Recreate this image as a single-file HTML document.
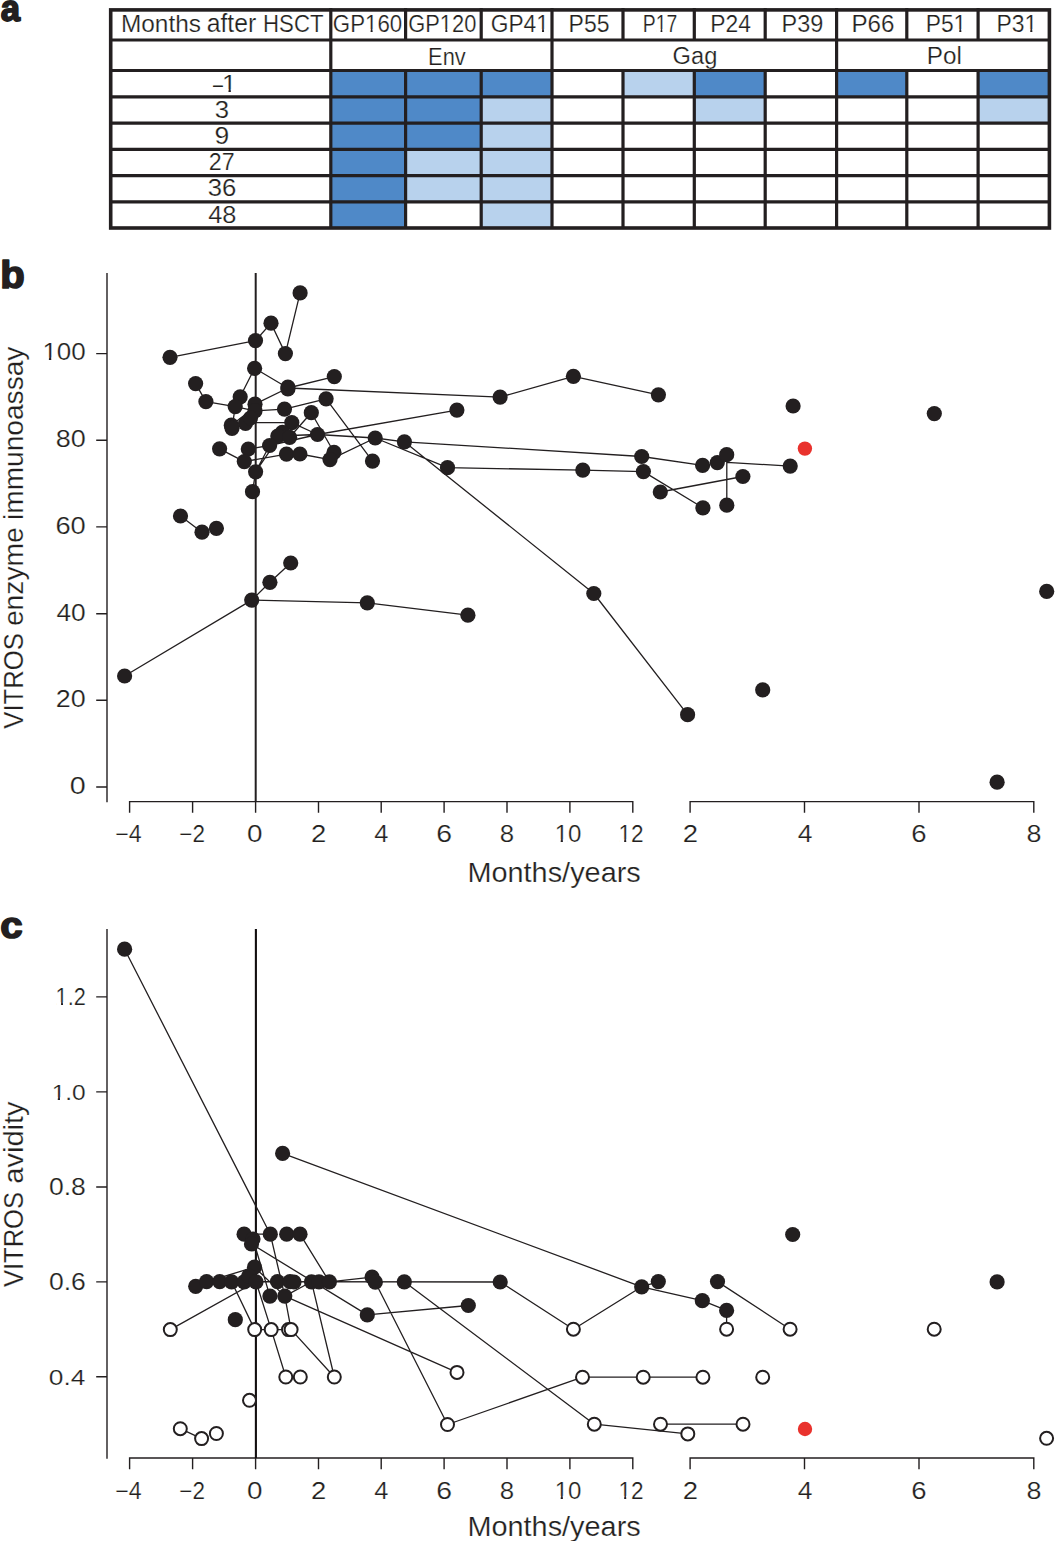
<!DOCTYPE html><html><head><meta charset="utf-8"><title>Figure</title><style>html,body{margin:0;padding:0;background:#fff;width:1055px;height:1541px;overflow:hidden}svg text{font-family:"Liberation Sans",sans-serif;font-kerning:none;font-variant-ligatures:none}</style></head><body><svg width="1055" height="1541" viewBox="0 0 1055 1541" style="display:block" font-family="Liberation Sans, sans-serif" fill="#231f20"><g transform="translate(0.63,20.65) scale(0.9335,1)"><text font-size="37.17" font-weight="bold" stroke="#231f20" stroke-width="1.76" stroke-linejoin="round">a</text></g>
<g transform="translate(0.21,287.65) scale(1.0300,1)"><text font-size="38.92" font-weight="bold" stroke="#231f20" stroke-width="1.67" stroke-linejoin="round">b</text></g>
<g transform="translate(0.18,938.45) scale(1.1031,1)"><text font-size="36.43" font-weight="bold" stroke="#231f20" stroke-width="1.62" stroke-linejoin="round">c</text></g>
<rect x="330.80" y="70.50" width="74.80" height="26.30" fill="#4f89c8"/>
<rect x="405.60" y="70.50" width="75.60" height="26.30" fill="#4f89c8"/>
<rect x="481.20" y="70.50" width="70.80" height="26.30" fill="#4f89c8"/>
<rect x="623.00" y="70.50" width="71.30" height="26.30" fill="#b8d2ed"/>
<rect x="694.30" y="70.50" width="70.90" height="26.30" fill="#4f89c8"/>
<rect x="836.60" y="70.50" width="70.20" height="26.30" fill="#4f89c8"/>
<rect x="978.10" y="70.50" width="71.30" height="26.30" fill="#4f89c8"/>
<rect x="330.80" y="96.80" width="74.80" height="26.30" fill="#4f89c8"/>
<rect x="405.60" y="96.80" width="75.60" height="26.30" fill="#4f89c8"/>
<rect x="481.20" y="96.80" width="70.80" height="26.30" fill="#b8d2ed"/>
<rect x="694.30" y="96.80" width="70.90" height="26.30" fill="#b8d2ed"/>
<rect x="978.10" y="96.80" width="71.30" height="26.30" fill="#b8d2ed"/>
<rect x="330.80" y="123.10" width="74.80" height="26.30" fill="#4f89c8"/>
<rect x="405.60" y="123.10" width="75.60" height="26.30" fill="#4f89c8"/>
<rect x="481.20" y="123.10" width="70.80" height="26.30" fill="#b8d2ed"/>
<rect x="330.80" y="149.40" width="74.80" height="26.20" fill="#4f89c8"/>
<rect x="405.60" y="149.40" width="75.60" height="26.20" fill="#b8d2ed"/>
<rect x="481.20" y="149.40" width="70.80" height="26.20" fill="#b8d2ed"/>
<rect x="330.80" y="175.60" width="74.80" height="26.20" fill="#4f89c8"/>
<rect x="405.60" y="175.60" width="75.60" height="26.20" fill="#b8d2ed"/>
<rect x="481.20" y="175.60" width="70.80" height="26.20" fill="#b8d2ed"/>
<rect x="330.80" y="201.80" width="74.80" height="25.80" fill="#4f89c8"/>
<rect x="481.20" y="201.80" width="70.80" height="25.80" fill="#b8d2ed"/>
<path d="M109,40.00H1051M109,70.50H1051M109,96.80H1051M109,123.10H1051M109,149.40H1051M109,175.60H1051M109,201.80H1051M330.80,8V229M405.60,8V40.00M405.60,70.50V229M481.20,8V40.00M481.20,70.50V229M552.00,8V229M623.00,8V40.00M623.00,70.50V229M694.30,8V40.00M694.30,70.50V229M765.20,8V40.00M765.20,70.50V229M836.60,8V229M906.80,8V40.00M906.80,70.50V229M978.10,8V40.00M978.10,70.50V229" stroke="#231f20" stroke-width="3.2" fill="none"/>
<rect x="110.7" y="9.9" width="938.7" height="218.1" stroke="#231f20" stroke-width="3.6" fill="none"/>
<g transform="translate(120.89,31.91) scale(1.0235,1)"><text font-size="23.87" stroke="#fff" stroke-width="0.22" stroke-linejoin="round">Months</text></g>
<g transform="translate(206.74,31.91) scale(0.9821,1)"><text font-size="25.18" stroke="#fff" stroke-width="0.22" stroke-linejoin="round">after</text></g>
<g transform="translate(263.07,31.91) scale(0.9305,1)"><text font-size="23.87" stroke="#fff" stroke-width="0.23" stroke-linejoin="round">HSCT</text></g>
<g transform="translate(332.87,31.91) scale(0.9328,1)"><text font-size="23.87" stroke="#fff" stroke-width="0.23" stroke-linejoin="round">GP160</text><g fill="#fff"><rect x="35.30" y="-2.74" width="5.15" height="3.50"/><rect x="42.63" y="-2.74" width="4.79" height="3.50"/></g></g>
<g transform="translate(408.29,31.91) scale(0.9162,1)"><text font-size="23.87" stroke="#fff" stroke-width="0.23" stroke-linejoin="round">GP120</text><g fill="#fff"><rect x="35.30" y="-2.74" width="5.15" height="3.50"/><rect x="42.63" y="-2.74" width="4.79" height="3.50"/></g></g>
<g transform="translate(490.75,31.91) scale(0.9534,1)"><text font-size="23.87" stroke="#fff" stroke-width="0.23" stroke-linejoin="round">GP41</text><g fill="#fff"><rect x="48.57" y="-2.74" width="5.15" height="3.50"/><rect x="55.90" y="-2.74" width="4.79" height="3.50"/></g></g>
<g transform="translate(568.61,31.91) scale(0.9624,1)"><text font-size="23.87" stroke="#fff" stroke-width="0.22" stroke-linejoin="round">P55</text></g>
<g transform="translate(642.80,31.91) scale(0.8121,1)"><text font-size="23.87" stroke="#fff" stroke-width="0.24" stroke-linejoin="round">P17</text><g fill="#fff"><rect x="16.73" y="-2.74" width="5.15" height="3.50"/><rect x="24.06" y="-2.74" width="4.79" height="3.50"/></g></g>
<g transform="translate(710.22,31.91) scale(0.9576,1)"><text font-size="23.87" stroke="#fff" stroke-width="0.22" stroke-linejoin="round">P24</text></g>
<g transform="translate(781.56,31.91) scale(0.9833,1)"><text font-size="23.87" stroke="#fff" stroke-width="0.22" stroke-linejoin="round">P39</text></g>
<g transform="translate(851.40,31.91) scale(1.0142,1)"><text font-size="23.87" stroke="#fff" stroke-width="0.22" stroke-linejoin="round">P66</text></g>
<g transform="translate(925.72,31.91) scale(0.9540,1)"><text font-size="23.87" stroke="#fff" stroke-width="0.23" stroke-linejoin="round">P51</text><g fill="#fff"><rect x="30.01" y="-2.74" width="5.15" height="3.50"/><rect x="37.34" y="-2.74" width="4.79" height="3.50"/></g></g>
<g transform="translate(996.51,31.91) scale(0.9597,1)"><text font-size="23.87" stroke="#fff" stroke-width="0.22" stroke-linejoin="round">P31</text><g fill="#fff"><rect x="30.01" y="-2.74" width="5.15" height="3.50"/><rect x="37.34" y="-2.74" width="4.79" height="3.50"/></g></g>
<g transform="translate(428.10,64.71) scale(0.9367,1)"><text font-size="23.29" stroke="#fff" stroke-width="0.23" stroke-linejoin="round">Env</text></g>
<g transform="translate(672.60,64.31) scale(0.9681,1)"><text font-size="24.45" stroke="#fff" stroke-width="0.22" stroke-linejoin="round">Gag</text></g>
<g transform="translate(926.70,64.11) scale(1.0187,1)"><text font-size="23.87" stroke="#fff" stroke-width="0.22" stroke-linejoin="round">Pol</text></g>
<g transform="translate(213.00,92.20) scale(0.7296,1)"><text font-size="24.42">–</text></g>
<g transform="translate(221.99,92.01) scale(1.0802,1)"><text font-size="24.01" stroke="#fff" stroke-width="0.21" stroke-linejoin="round">1</text><g fill="#fff"><rect x="0.82" y="-2.76" width="5.18" height="3.52"/><rect x="8.20" y="-2.76" width="4.82" height="3.52"/></g></g>
<g transform="translate(214.71,118.21) scale(1.0418,1)"><text font-size="24.74" stroke="#fff" stroke-width="0.22" stroke-linejoin="round">3</text></g>
<g transform="translate(214.45,144.41) scale(1.0757,1)"><text font-size="24.59" stroke="#fff" stroke-width="0.21" stroke-linejoin="round">9</text></g>
<g transform="translate(208.72,170.11) scale(0.9509,1)"><text font-size="24.45" stroke="#fff" stroke-width="0.23" stroke-linejoin="round">27</text></g>
<g transform="translate(207.81,196.21) scale(1.0467,1)"><text font-size="24.59" stroke="#fff" stroke-width="0.21" stroke-linejoin="round">36</text></g>
<g transform="translate(208.21,223.11) scale(1.0310,1)"><text font-size="24.59" stroke="#fff" stroke-width="0.22" stroke-linejoin="round">48</text></g>
<path d="M107,273.00V802.30M96.2,787.00H107M96.2,700.30H107M96.2,613.80H107M96.2,526.90H107M96.2,440.20H107M96.2,353.60H107M129.6,801.60H632.8M690.1,801.60H1033.8M129.60,800.90V812.80M192.60,800.90V812.80M255.60,800.90V812.80M318.50,800.90V812.80M381.20,800.90V812.80M444.10,800.90V812.80M507.00,800.90V812.80M569.90,800.90V812.80M632.80,800.90V812.80M690.10,800.90V812.80M804.50,800.90V812.80M919.00,800.90V812.80M1033.80,800.90V812.80" stroke="#231f20" stroke-width="1.4" fill="none"/>
<path d="M255.70,273.00V801.60" stroke="#231f20" stroke-width="2.00" fill="none"/>
<g transform="translate(69.87,793.71) scale(1.2026,1)"><text font-size="23.87" stroke="#fff" stroke-width="0.20" stroke-linejoin="round">0</text></g>
<g transform="translate(55.84,707.01) scale(1.1272,1)"><text font-size="23.87" stroke="#fff" stroke-width="0.21" stroke-linejoin="round">20</text></g>
<g transform="translate(56.49,620.51) scale(1.1018,1)"><text font-size="23.87" stroke="#fff" stroke-width="0.21" stroke-linejoin="round">40</text></g>
<g transform="translate(55.40,533.61) scale(1.1441,1)"><text font-size="23.87" stroke="#fff" stroke-width="0.21" stroke-linejoin="round">60</text></g>
<g transform="translate(55.72,446.91) scale(1.1319,1)"><text font-size="23.87" stroke="#fff" stroke-width="0.21" stroke-linejoin="round">80</text></g>
<g transform="translate(42.39,360.31) scale(1.0882,1)"><text font-size="23.87" stroke="#fff" stroke-width="0.21" stroke-linejoin="round">100</text><g fill="#fff"><rect x="0.82" y="-2.74" width="5.15" height="3.50"/><rect x="8.15" y="-2.74" width="4.79" height="3.50"/></g></g>
<g transform="translate(115.25,842.11) scale(1.0023,1)"><text font-size="23.14" stroke="#fff" stroke-width="0.22" stroke-linejoin="round">−4</text></g>
<g transform="translate(179.28,842.11) scale(0.9727,1)"><text font-size="23.14" stroke="#fff" stroke-width="0.22" stroke-linejoin="round">−2</text></g>
<g transform="translate(246.90,842.11) scale(1.2042,1)"><text font-size="23.14" stroke="#fff" stroke-width="0.20" stroke-linejoin="round">0</text></g>
<g transform="translate(310.91,842.11) scale(1.1877,1)"><text font-size="23.14" stroke="#fff" stroke-width="0.20" stroke-linejoin="round">2</text></g>
<g transform="translate(374.21,842.11) scale(1.0995,1)"><text font-size="23.14" stroke="#fff" stroke-width="0.21" stroke-linejoin="round">4</text></g>
<g transform="translate(436.15,842.11) scale(1.2288,1)"><text font-size="23.14" stroke="#fff" stroke-width="0.20" stroke-linejoin="round">6</text></g>
<g transform="translate(499.67,842.11) scale(1.1162,1)"><text font-size="23.14" stroke="#fff" stroke-width="0.21" stroke-linejoin="round">8</text></g>
<g transform="translate(554.67,842.11) scale(1.0403,1)"><text font-size="23.14" stroke="#fff" stroke-width="0.22" stroke-linejoin="round">10</text><g fill="#fff"><rect x="0.79" y="-2.66" width="4.99" height="3.39"/><rect x="7.90" y="-2.66" width="4.64" height="3.39"/></g></g>
<g transform="translate(618.52,842.11) scale(0.9763,1)"><text font-size="23.14" stroke="#fff" stroke-width="0.22" stroke-linejoin="round">12</text><g fill="#fff"><rect x="0.79" y="-2.66" width="4.99" height="3.39"/><rect x="7.90" y="-2.66" width="4.64" height="3.39"/></g></g>
<g transform="translate(682.81,842.11) scale(1.1877,1)"><text font-size="23.14" stroke="#fff" stroke-width="0.20" stroke-linejoin="round">2</text></g>
<g transform="translate(797.68,842.11) scale(1.1423,1)"><text font-size="23.14" stroke="#fff" stroke-width="0.21" stroke-linejoin="round">4</text></g>
<g transform="translate(911.29,842.11) scale(1.1913,1)"><text font-size="23.14" stroke="#fff" stroke-width="0.20" stroke-linejoin="round">6</text></g>
<g transform="translate(1026.42,842.11) scale(1.1623,1)"><text font-size="23.14" stroke="#fff" stroke-width="0.20" stroke-linejoin="round">8</text></g>
<g transform="translate(467.42,881.81) scale(1.0556,1)"><text font-size="27.36" stroke="#fff" stroke-width="0.21" stroke-linejoin="round">Months/years</text></g>
<text transform="translate(22.71,728.72) rotate(-90) scale(0.9510,1)" font-size="27.06" stroke="#fff" stroke-width="0.22">VITROS</text>
<text transform="translate(22.71,626.11) rotate(-90) scale(1.0444,1)" font-size="27.06" stroke="#fff" stroke-width="0.22">enzyme</text>
<text transform="translate(22.71,519.99) rotate(-90) scale(1.0395,1)" font-size="27.06" stroke="#fff" stroke-width="0.22">immunoassay</text>
<path d="M170.0,357.3L255.5,340.6L271.0,323.2L285.4,353.6L300.1,292.9M254.6,368.3L287.9,388.0L334.3,376.6M254.6,368.3L240.2,396.8M287.9,388.0L500.1,397.1L573.4,376.3L658.4,394.8M255.0,404.2L287.9,388.0M195.6,383.6L205.9,401.6L235.2,406.6L255.0,410.8M255.0,410.8L284.5,409.1L326.1,398.8L372.5,461.1M255.5,422.6L291.8,422.6M231.3,425.2L250.5,410.5M232.0,428.3L235.2,406.6M289.6,437.3L311.3,412.7L334.0,452.3M291.8,422.6L317.5,434.5M317.5,434.5L456.9,410.1M277.8,436.0L317.5,434.5L375.2,438.0L404.4,441.8L641.7,456.5L702.6,465.3M269.6,445.5L317.5,434.5M330.0,459.6L375.2,438.0M404.4,441.8L593.8,593.5L687.6,714.7M375.2,438.0L447.5,467.7L582.8,470.1L643.4,471.6L702.9,507.8M660.3,492.0L742.9,476.5M726.8,505.2L726.8,462.4L790.2,466.1M219.6,448.8L244.3,461.6L286.5,454.1L299.9,454.0L330.0,459.6M248.3,449.0L269.6,445.5M255.6,471.8L269.6,445.5M255.6,471.8L282.4,432.4M255.6,471.8L252.5,491.7M180.5,516.0L202.0,532.2M124.6,676.0L251.7,600.1L269.9,582.3L290.7,563.0M251.7,600.1L367.3,602.8L467.9,615.2" stroke="#231f20" stroke-width="1.30" fill="none" stroke-linejoin="round"/>
<g fill="#231f20"><circle cx="300.1" cy="292.9" r="7.60"/><circle cx="271.0" cy="323.2" r="7.60"/><circle cx="255.5" cy="340.6" r="7.60"/><circle cx="285.4" cy="353.6" r="7.60"/><circle cx="170.0" cy="357.3" r="7.60"/><circle cx="254.6" cy="368.3" r="7.60"/><circle cx="334.3" cy="376.6" r="7.60"/><circle cx="195.6" cy="383.6" r="7.60"/><circle cx="287.9" cy="387.0" r="7.60"/><circle cx="287.9" cy="389.0" r="7.60"/><circle cx="500.1" cy="397.1" r="7.60"/><circle cx="573.4" cy="376.3" r="7.60"/><circle cx="658.4" cy="394.8" r="7.60"/><circle cx="205.9" cy="401.6" r="7.60"/><circle cx="240.2" cy="396.8" r="7.60"/><circle cx="235.2" cy="406.6" r="7.60"/><circle cx="255.0" cy="404.2" r="7.60"/><circle cx="255.0" cy="410.8" r="7.60"/><circle cx="284.5" cy="409.1" r="7.60"/><circle cx="326.1" cy="398.8" r="7.60"/><circle cx="456.9" cy="410.1" r="7.60"/><circle cx="231.3" cy="425.2" r="7.60"/><circle cx="232.0" cy="428.3" r="7.60"/><circle cx="245.5" cy="423.5" r="7.60"/><circle cx="250.5" cy="418.0" r="7.60"/><circle cx="291.8" cy="422.6" r="7.60"/><circle cx="311.3" cy="412.7" r="7.60"/><circle cx="317.5" cy="434.5" r="7.60"/><circle cx="282.4" cy="432.4" r="7.60"/><circle cx="277.8" cy="436.0" r="7.60"/><circle cx="289.6" cy="437.3" r="7.60"/><circle cx="269.6" cy="445.5" r="7.60"/><circle cx="375.2" cy="438.0" r="7.60"/><circle cx="404.4" cy="441.8" r="7.60"/><circle cx="641.7" cy="456.5" r="7.60"/><circle cx="702.6" cy="465.3" r="7.60"/><circle cx="717.3" cy="462.6" r="7.60"/><circle cx="726.7" cy="454.7" r="7.60"/><circle cx="790.2" cy="466.1" r="7.60"/><circle cx="219.6" cy="448.8" r="7.60"/><circle cx="248.3" cy="449.0" r="7.60"/><circle cx="244.3" cy="461.6" r="7.60"/><circle cx="255.6" cy="471.8" r="7.60"/><circle cx="252.5" cy="491.7" r="7.60"/><circle cx="286.5" cy="454.1" r="7.60"/><circle cx="299.9" cy="454.0" r="7.60"/><circle cx="334.0" cy="452.3" r="7.60"/><circle cx="330.0" cy="459.6" r="7.60"/><circle cx="372.5" cy="461.1" r="7.60"/><circle cx="447.5" cy="467.7" r="7.60"/><circle cx="582.8" cy="470.1" r="7.60"/><circle cx="643.4" cy="471.6" r="7.60"/><circle cx="660.3" cy="492.0" r="7.60"/><circle cx="742.9" cy="476.5" r="7.60"/><circle cx="702.9" cy="507.8" r="7.60"/><circle cx="726.8" cy="505.2" r="7.60"/><circle cx="793.1" cy="406.0" r="7.60"/><circle cx="934.3" cy="413.6" r="7.60"/><circle cx="180.5" cy="516.0" r="7.60"/><circle cx="202.0" cy="532.2" r="7.60"/><circle cx="216.4" cy="528.3" r="7.60"/><circle cx="124.6" cy="676.0" r="7.60"/><circle cx="251.7" cy="600.1" r="7.60"/><circle cx="269.9" cy="582.3" r="7.60"/><circle cx="290.7" cy="563.0" r="7.60"/><circle cx="367.3" cy="602.8" r="7.60"/><circle cx="467.9" cy="615.2" r="7.60"/><circle cx="593.8" cy="593.5" r="7.60"/><circle cx="687.6" cy="714.7" r="7.60"/><circle cx="762.7" cy="689.9" r="7.60"/><circle cx="997.1" cy="782.2" r="7.60"/><circle cx="1046.7" cy="591.4" r="7.60"/></g>
<g fill="#e9322d"><circle cx="804.9" cy="448.6" r="7.20"/></g>
<path d="M107,929.00V1458.70M96.2,1376.80H107M96.2,1281.90H107M96.2,1187.00H107M96.2,1091.90H107M96.2,996.90H107M129.6,1458.00H632.8M690.1,1458.00H1033.8M129.60,1457.30V1469.20M192.60,1457.30V1469.20M255.60,1457.30V1469.20M318.50,1457.30V1469.20M381.20,1457.30V1469.20M444.10,1457.30V1469.20M507.00,1457.30V1469.20M569.90,1457.30V1469.20M632.80,1457.30V1469.20M690.10,1457.30V1469.20M804.50,1457.30V1469.20M919.00,1457.30V1469.20M1033.80,1457.30V1469.20" stroke="#231f20" stroke-width="1.4" fill="none"/>
<path d="M255.90,929.00V1458.00" stroke="#120e0f" stroke-width="2.10" fill="none"/>
<g transform="translate(48.86,1384.81) scale(1.1456,1)"><text font-size="22.99" stroke="#fff" stroke-width="0.21" stroke-linejoin="round">0.4</text></g>
<g transform="translate(48.95,1289.91) scale(1.1551,1)"><text font-size="22.99" stroke="#fff" stroke-width="0.20" stroke-linejoin="round">0.6</text></g>
<g transform="translate(48.95,1195.01) scale(1.1547,1)"><text font-size="22.99" stroke="#fff" stroke-width="0.20" stroke-linejoin="round">0.8</text></g>
<g transform="translate(51.64,1099.91) scale(1.0646,1)"><text font-size="22.99" stroke="#fff" stroke-width="0.21" stroke-linejoin="round">1.0</text><g fill="#fff"><rect x="0.79" y="-2.64" width="4.96" height="3.37"/><rect x="7.85" y="-2.64" width="4.61" height="3.37"/></g></g>
<g transform="translate(55.60,1004.91) scale(0.9448,1)"><text font-size="22.99" stroke="#fff" stroke-width="0.23" stroke-linejoin="round">1.2</text><g fill="#fff"><rect x="0.79" y="-2.64" width="4.96" height="3.37"/><rect x="7.85" y="-2.64" width="4.61" height="3.37"/></g></g>
<g transform="translate(115.25,1498.51) scale(1.0023,1)"><text font-size="23.14" stroke="#fff" stroke-width="0.22" stroke-linejoin="round">−4</text></g>
<g transform="translate(179.28,1498.51) scale(0.9727,1)"><text font-size="23.14" stroke="#fff" stroke-width="0.22" stroke-linejoin="round">−2</text></g>
<g transform="translate(246.90,1498.51) scale(1.2042,1)"><text font-size="23.14" stroke="#fff" stroke-width="0.20" stroke-linejoin="round">0</text></g>
<g transform="translate(310.91,1498.51) scale(1.1877,1)"><text font-size="23.14" stroke="#fff" stroke-width="0.20" stroke-linejoin="round">2</text></g>
<g transform="translate(374.21,1498.51) scale(1.0995,1)"><text font-size="23.14" stroke="#fff" stroke-width="0.21" stroke-linejoin="round">4</text></g>
<g transform="translate(436.15,1498.51) scale(1.2288,1)"><text font-size="23.14" stroke="#fff" stroke-width="0.20" stroke-linejoin="round">6</text></g>
<g transform="translate(499.67,1498.51) scale(1.1162,1)"><text font-size="23.14" stroke="#fff" stroke-width="0.21" stroke-linejoin="round">8</text></g>
<g transform="translate(554.67,1498.51) scale(1.0403,1)"><text font-size="23.14" stroke="#fff" stroke-width="0.22" stroke-linejoin="round">10</text><g fill="#fff"><rect x="0.79" y="-2.66" width="4.99" height="3.39"/><rect x="7.90" y="-2.66" width="4.64" height="3.39"/></g></g>
<g transform="translate(618.52,1498.51) scale(0.9763,1)"><text font-size="23.14" stroke="#fff" stroke-width="0.22" stroke-linejoin="round">12</text><g fill="#fff"><rect x="0.79" y="-2.66" width="4.99" height="3.39"/><rect x="7.90" y="-2.66" width="4.64" height="3.39"/></g></g>
<g transform="translate(682.81,1498.51) scale(1.1877,1)"><text font-size="23.14" stroke="#fff" stroke-width="0.20" stroke-linejoin="round">2</text></g>
<g transform="translate(797.68,1498.51) scale(1.1423,1)"><text font-size="23.14" stroke="#fff" stroke-width="0.21" stroke-linejoin="round">4</text></g>
<g transform="translate(911.29,1498.51) scale(1.1913,1)"><text font-size="23.14" stroke="#fff" stroke-width="0.20" stroke-linejoin="round">6</text></g>
<g transform="translate(1026.42,1498.51) scale(1.1623,1)"><text font-size="23.14" stroke="#fff" stroke-width="0.20" stroke-linejoin="round">8</text></g>
<g transform="translate(467.42,1535.81) scale(1.0613,1)"><text font-size="27.21" stroke="#fff" stroke-width="0.21" stroke-linejoin="round">Months/years</text></g>
<text transform="translate(22.71,1287.12) rotate(-90) scale(0.9450,1)" font-size="27.06" stroke="#fff" stroke-width="0.22">VITROS</text>
<text transform="translate(22.71,1183.75) rotate(-90) scale(1.0743,1)" font-size="27.06" stroke="#fff" stroke-width="0.22">avidity</text>
<path d="M124.6,949.2L270.3,1234.2L284.8,1296.1L291.1,1329.6M282.6,1153.4L641.7,1286.8L702.3,1300.7L726.6,1310.4L726.6,1329.2M641.7,1286.8L658.3,1281.6M244.1,1234.2L270.3,1234.2M300.0,1234.2L329.4,1281.8M251.5,1244.0L367.3,1314.9L468.3,1305.5M253.0,1239.0L269.9,1296.1M170.3,1329.6L256.0,1281.8M231.6,1281.8L254.7,1329.6M256.0,1281.8L271.2,1329.6M206.6,1281.6L254.5,1267.2M254.5,1267.2L284.8,1296.1M284.8,1296.1L311.5,1281.8M284.8,1296.1L457.0,1372.4M254.7,1329.6L291.1,1329.6M271.2,1329.6L285.8,1377.0M291.1,1329.6L334.3,1377.0M311.5,1281.8L334.3,1377.0M195.7,1286.3L206.6,1281.6L500.2,1282.0M329.4,1281.8L372.1,1277.1M375.3,1282.2L447.5,1424.5L582.5,1377.2L643.2,1377.2L702.9,1377.2M404.3,1281.8L594.3,1424.2L687.8,1433.9M660.5,1424.2L743.0,1424.2M500.2,1282.0L573.4,1329.2L641.7,1286.8M717.5,1281.6L790.1,1329.2M180.3,1428.7L201.6,1438.6" stroke="#231f20" stroke-width="1.30" fill="none" stroke-linejoin="round"/>
<g fill="#231f20"><circle cx="124.6" cy="949.2" r="7.60"/><circle cx="282.6" cy="1153.4" r="7.60"/><circle cx="244.1" cy="1234.2" r="7.60"/><circle cx="253.0" cy="1239.0" r="7.60"/><circle cx="251.5" cy="1244.0" r="7.60"/><circle cx="270.3" cy="1234.2" r="7.60"/><circle cx="286.7" cy="1234.2" r="7.60"/><circle cx="300.0" cy="1234.2" r="7.60"/><circle cx="254.5" cy="1267.2" r="7.60"/><circle cx="195.7" cy="1286.3" r="7.60"/><circle cx="206.6" cy="1281.6" r="7.60"/><circle cx="219.7" cy="1281.6" r="7.60"/><circle cx="231.6" cy="1281.8" r="7.60"/><circle cx="244.2" cy="1281.8" r="7.60"/><circle cx="248.7" cy="1276.0" r="7.60"/><circle cx="256.0" cy="1281.8" r="7.60"/><circle cx="277.5" cy="1281.6" r="7.60"/><circle cx="290.0" cy="1281.6" r="7.60"/><circle cx="294.0" cy="1282.0" r="7.60"/><circle cx="311.5" cy="1281.8" r="7.60"/><circle cx="319.0" cy="1281.8" r="7.60"/><circle cx="329.4" cy="1281.8" r="7.60"/><circle cx="269.9" cy="1296.1" r="7.60"/><circle cx="284.8" cy="1296.1" r="7.60"/><circle cx="235.3" cy="1319.7" r="7.60"/><circle cx="372.1" cy="1277.1" r="7.60"/><circle cx="375.3" cy="1282.2" r="7.60"/><circle cx="404.3" cy="1281.8" r="7.60"/><circle cx="500.2" cy="1282.0" r="7.60"/><circle cx="367.3" cy="1314.9" r="7.60"/><circle cx="468.3" cy="1305.5" r="7.60"/><circle cx="641.7" cy="1286.8" r="7.60"/><circle cx="658.3" cy="1281.6" r="7.60"/><circle cx="702.3" cy="1300.7" r="7.60"/><circle cx="717.5" cy="1281.6" r="7.60"/><circle cx="726.6" cy="1310.4" r="7.60"/><circle cx="792.7" cy="1234.5" r="7.60"/><circle cx="997.1" cy="1281.9" r="7.60"/></g>
<g fill="#fff" stroke="#231f20" stroke-width="2.00"><circle cx="170.3" cy="1329.6" r="6.50"/><circle cx="254.7" cy="1329.6" r="6.50"/><circle cx="271.2" cy="1329.6" r="6.50"/><circle cx="288.5" cy="1329.6" r="6.50"/><circle cx="291.1" cy="1329.6" r="6.50"/><circle cx="285.8" cy="1377.0" r="6.50"/><circle cx="300.3" cy="1377.0" r="6.50"/><circle cx="334.3" cy="1377.0" r="6.50"/><circle cx="249.5" cy="1400.3" r="6.50"/><circle cx="180.3" cy="1428.7" r="6.50"/><circle cx="201.6" cy="1438.6" r="6.50"/><circle cx="216.4" cy="1433.5" r="6.50"/><circle cx="457.0" cy="1372.4" r="6.50"/><circle cx="447.5" cy="1424.5" r="6.50"/><circle cx="573.4" cy="1329.2" r="6.50"/><circle cx="582.5" cy="1377.2" r="6.50"/><circle cx="643.2" cy="1377.2" r="6.50"/><circle cx="702.9" cy="1377.2" r="6.50"/><circle cx="762.7" cy="1377.2" r="6.50"/><circle cx="594.3" cy="1424.2" r="6.50"/><circle cx="660.5" cy="1424.2" r="6.50"/><circle cx="687.8" cy="1433.9" r="6.50"/><circle cx="743.0" cy="1424.2" r="6.50"/><circle cx="726.6" cy="1329.2" r="6.50"/><circle cx="790.1" cy="1329.2" r="6.50"/><circle cx="934.2" cy="1329.2" r="6.50"/><circle cx="1046.6" cy="1438.3" r="6.50"/></g>
<g fill="#e9322d"><circle cx="805.0" cy="1429.0" r="7.20"/></g></svg></body></html>
